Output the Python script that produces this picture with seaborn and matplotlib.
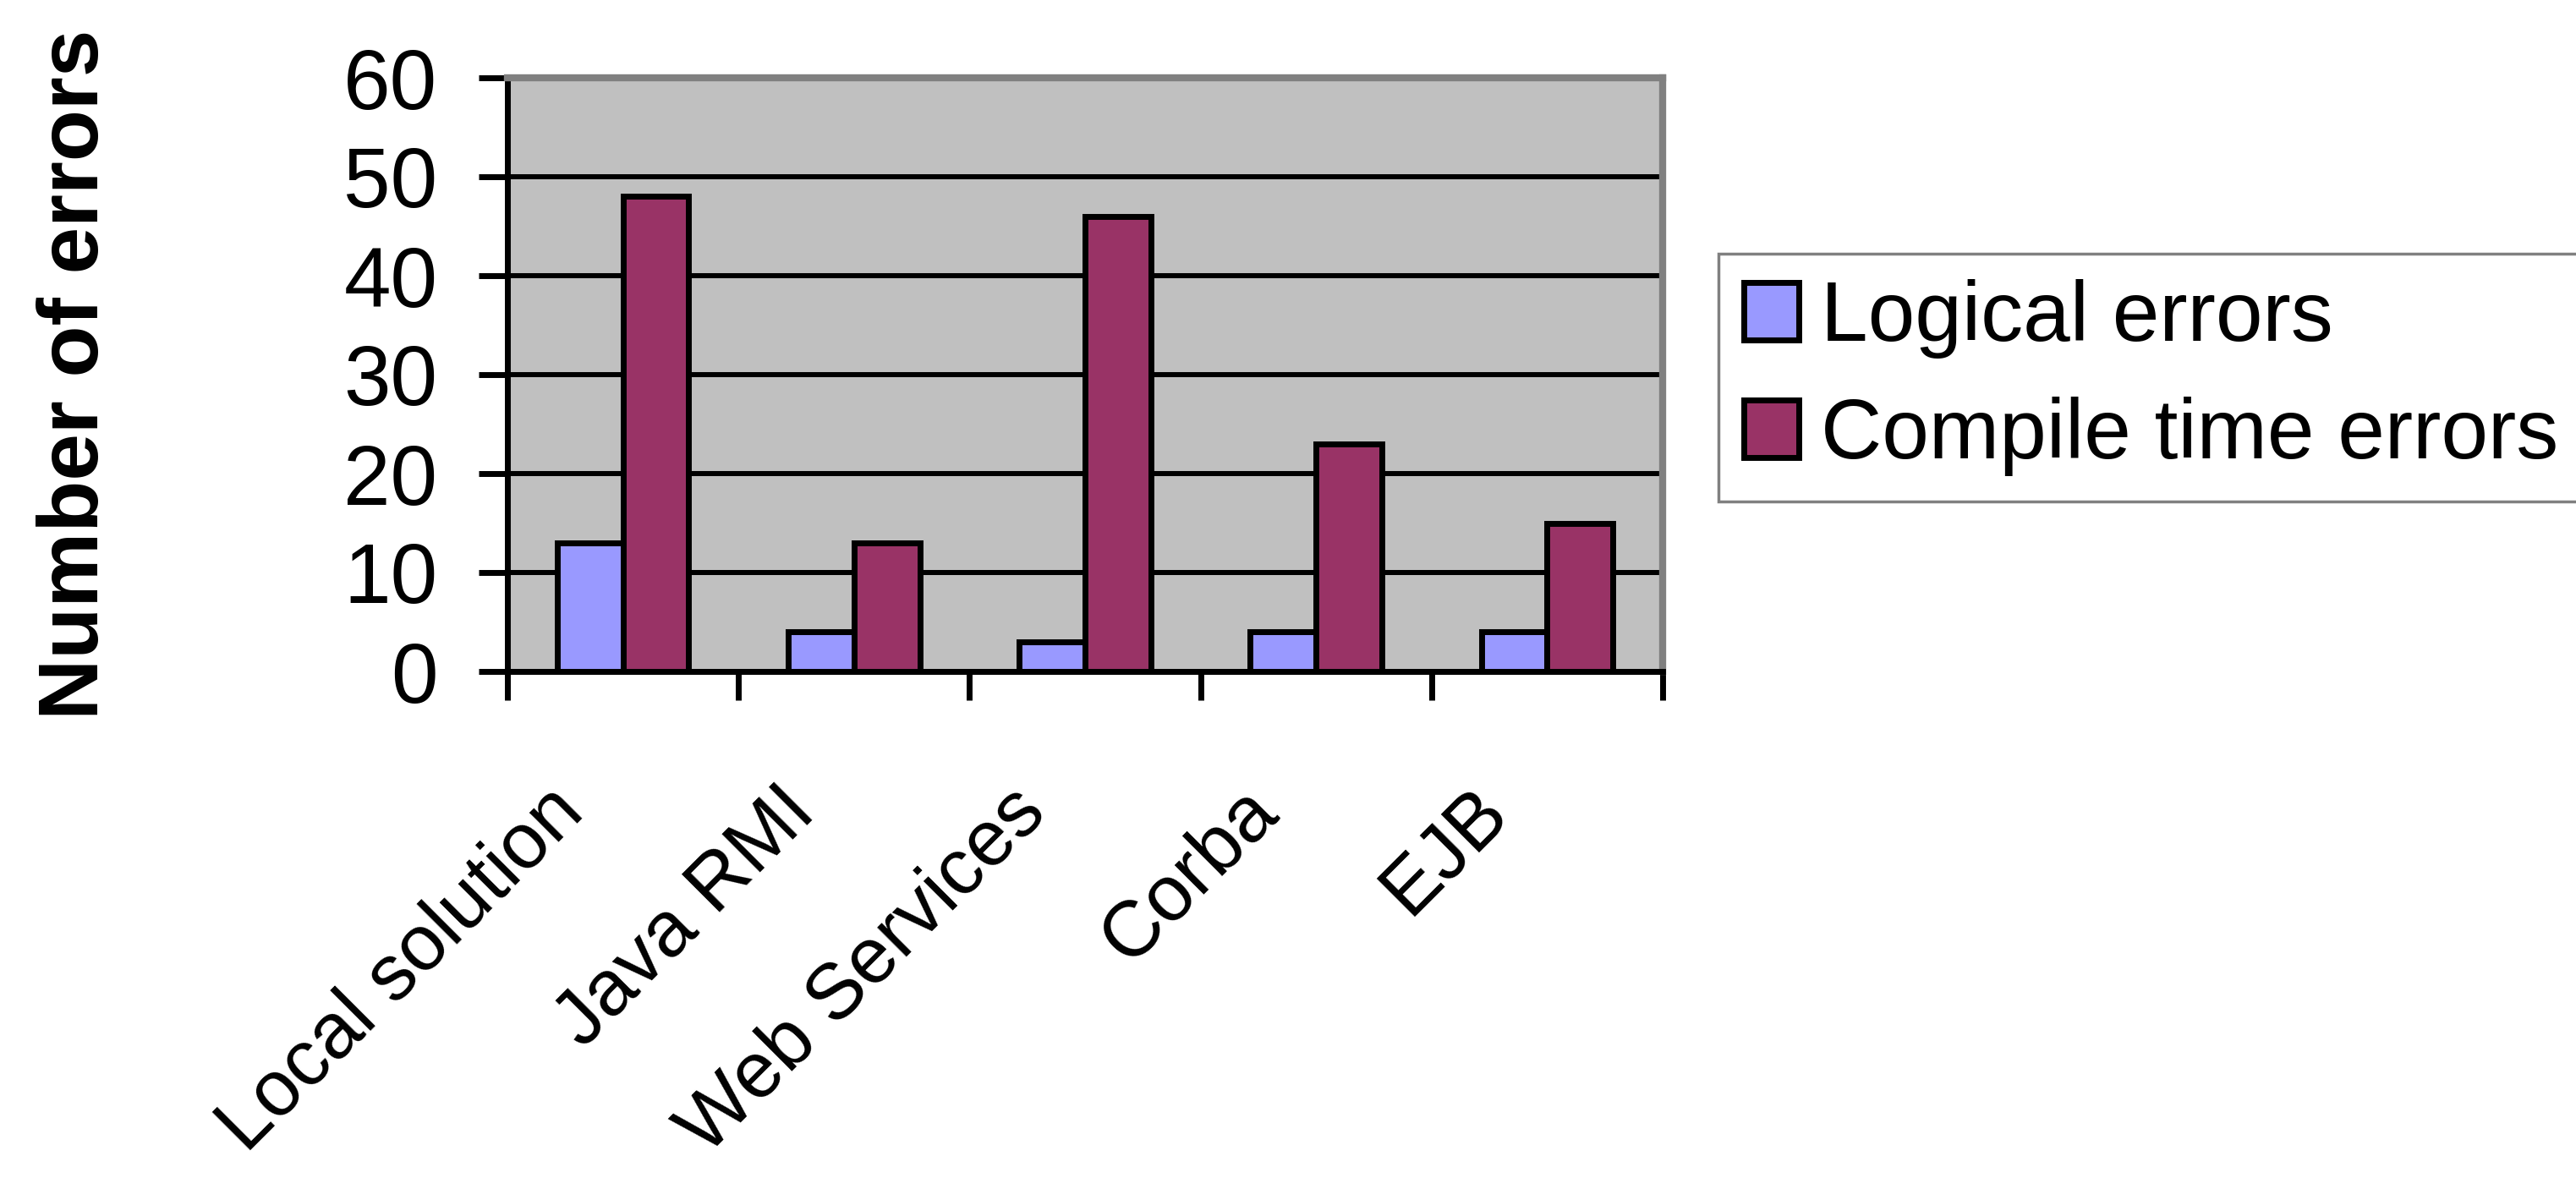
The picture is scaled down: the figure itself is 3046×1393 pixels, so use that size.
import matplotlib
matplotlib.use('Agg')
import matplotlib.pyplot as plt
import matplotlib.transforms as mtransforms
from matplotlib.patches import Patch
import seaborn as sns
import pandas as pd

categories = ["Local solution", "Java RMI", "Web Services", "Corba", "EJB"]
logical_errors = [13, 4, 3, 4, 4]
compile_time_errors = [48, 13, 46, 23, 15]
series_names = ["Logical errors", "Compile time errors"]
series_colors = ["#9999FF", "#993366"]
y_ticks = [0, 10, 20, 30, 40, 50, 60]

df = pd.DataFrame({
    "Platform": categories * 2,
    "Errors": logical_errors + compile_time_errors,
    "Type": [series_names[0]] * len(categories) + [series_names[1]] * len(categories),
})

sns.set_theme(style="white")
plt.rcParams['font.family'] = ['Liberation Sans', 'DejaVu Sans']
plt.rcParams['text.color'] = 'black'
plt.rcParams['axes.labelcolor'] = 'black'
plt.rcParams['xtick.color'] = 'black'
plt.rcParams['ytick.color'] = 'black'

DPI = 100
W, H = 3046, 1393
fig = plt.figure(figsize=(W / DPI, H / DPI), dpi=DPI)
fig.patch.set_facecolor('white')
ax = fig.add_axes([600 / W, 1 - 794 / H, 1366 / W, 702 / H])
ax.set_facecolor('#C0C0C0')

sns.barplot(data=df, x="Platform", y="Errors", hue="Type", order=categories,
            hue_order=series_names, palette=series_colors, saturation=1,
            width=0.57, edgecolor='black', linewidth=5, legend=False,
            ax=ax, zorder=3)

ax.set_xlim(-0.5, len(categories) - 0.5)
ax.set_ylim(0, 60)
ax.set_yticks(y_ticks)
ax.yaxis.grid(True, color='black', linewidth=4.3)
ax.xaxis.grid(False)
ax.set_axisbelow(True)

for s in ['top', 'right']:
    ax.spines[s].set_color('#808080')
    ax.spines[s].set_linewidth(6)
for s in ['left', 'bottom']:
    ax.spines[s].set_color('black')
    ax.spines[s].set_linewidth(5)

ax.tick_params(axis='y', which='major', direction='out', length=24.5, width=5,
               color='black', pad=35, labelsize=72, left=True, labelcolor='black')
ax.set_xticks(range(len(categories)))
ax.set_xticks([i - 0.5 for i in range(len(categories) + 1)], minor=True)
ax.tick_params(axis='x', which='major', length=0, pad=110, labelsize=67, labelcolor='black')
ax.tick_params(axis='x', which='minor', direction='out', length=24.5, width=5,
               color='black', bottom=True)
ax.set_xticklabels(categories, rotation=45, ha='right', va='center',
                   rotation_mode='anchor')
offset = mtransforms.ScaledTranslation(-60 / DPI, 0, fig.dpi_scale_trans)
for lbl in ax.get_xticklabels():
    lbl.set_transform(lbl.get_transform() + offset)

ax.set_xlabel('')
ax.set_ylabel('Number of errors', fontsize=72, fontweight='bold', color='black')
ax.yaxis.set_label_coords(-0.339, 0.5)

handles = [Patch(facecolor=c, edgecolor='black', linewidth=5) for c in series_colors]
leg = ax.legend(handles, series_names, loc='upper left',
                bbox_to_anchor=(2032 / W, 1 - 300 / H), bbox_transform=fig.transFigure,
                borderaxespad=0, fontsize=72, frameon=True, fancybox=False,
                edgecolor='#808080', handlelength=0.65, handleheight=0.68,
                handletextpad=0.26, labelspacing=0.45, borderpad=0.3)
leg.get_frame().set_linewidth(2.5)
leg.get_frame().set_facecolor('white')
leg.get_frame().set_alpha(1)
for t in leg.get_texts():
    t.set_color('black')

fig.savefig('out.png', dpi=DPI)
